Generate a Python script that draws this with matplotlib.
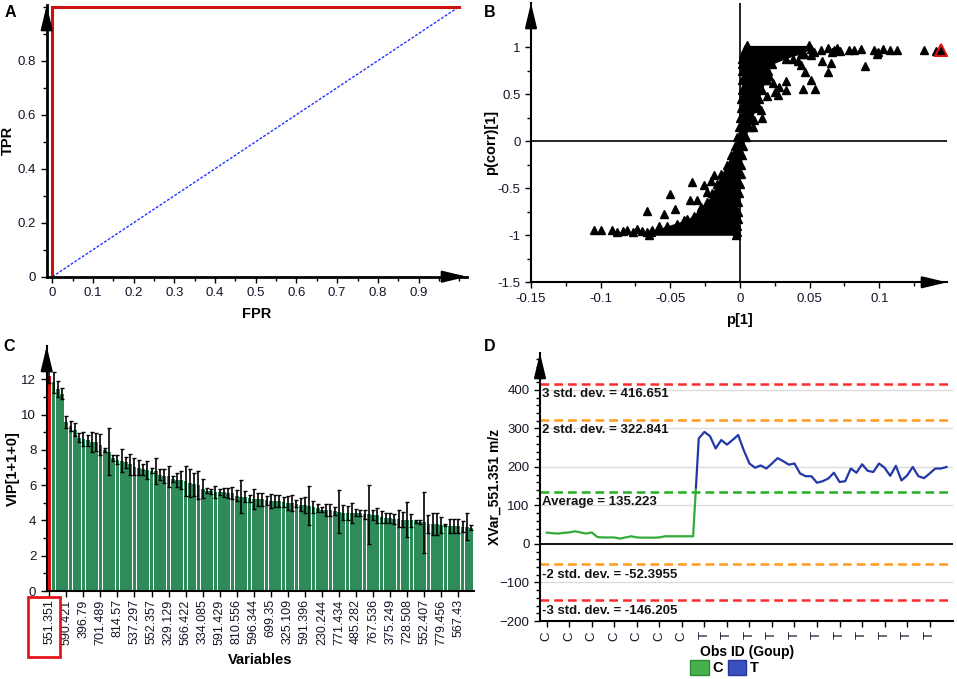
import matplotlib
matplotlib.use("Agg")
import matplotlib.pyplot as plt
from matplotlib.patches import Rectangle, Patch
from matplotlib.ticker import MultipleLocator

plt.rcParams['font.family'] = ['Liberation Sans', 'DejaVu Sans']

# ---- A: ROC ----
roc_fpr = [0.0, 0.0, 1.0]
roc_tpr = [0.0, 1.0, 1.0]
ref_fpr = [0.0, 1.0]
ref_tpr = [0.0, 1.0]

# ---- B: S-plot ----
# dense core of the point cloud, read row by row: y level, left and right edge
core_y = [1.02, 0.98, 0.93, 0.88, 0.82, 0.75, 0.65, 0.55, 0.45, 0.35, 0.25, 0.15, 0.05,
          -0.05, -0.15, -0.25, -0.35, -0.45, -0.55, -0.65, -0.75, -0.83, -0.90, -0.96, -1.0]
core_xlo = [0.0053, 0.0034, 0.0022, 0.0017, 0.0014, 0.0014, 0.0012, 0.0012, 0.0010, 0.0007,
            0.0002, -0.0007, -0.0019, -0.0038, -0.0067, -0.0096, -0.0134, -0.0168, -0.0199,
            -0.0240, -0.0295, -0.0378, -0.0522, -0.0642, -0.0654]
core_xhi = [0.0496, 0.0508, 0.0436, 0.0328, 0.0232, 0.0201, 0.0184, 0.0160, 0.0136, 0.0113,
            0.0089, 0.0067, 0.0041, 0.0024, 0.0017, 0.0010, 0.0005, -0.0002, -0.0007,
            -0.0012, -0.0014, -0.0017, -0.0019, -0.0024, -0.0031]
out_x = [0.058, 0.063, 0.0675, 0.072, 0.078, 0.082, 0.087, 0.096, 0.099, 0.103, 0.108, 0.113,
         0.132, 0.1405, 0.046, 0.051, 0.053, 0.098, 0.066, 0.070,
         0.0436, 0.047, 0.051, 0.045, 0.054, 0.059, 0.065, 0.063, 0.090, 0.033, 0.033, 0.027,
         0.0196, 0.016, 0.010, 0.009, 0.0196, 0.024, 0.021, 0.015, 0.0125, 0.028, 0.025,
         0.038, 0.042,
         -0.105, -0.100, -0.092, -0.088, -0.084, -0.081, -0.077, -0.074, -0.070, -0.067,
         -0.063, -0.0666, -0.0546, -0.0505, -0.0467, -0.0347, -0.036, -0.0307, -0.0187,
         -0.0235, -0.028, -0.040, -0.033, -0.045, -0.058, -0.026, -0.021]
out_y = [0.97, 0.99, 0.97, 0.96, 0.97, 0.97, 0.98, 0.97, 0.95, 0.98, 0.97, 0.97,
         0.97, 0.96, 0.93, 0.92, 0.95, 0.93, 0.95, 0.99,
         0.81, 0.74, 0.65, 0.56, 0.56, 0.85, 0.83, 0.74, 0.80, 0.64, 0.55, 0.49,
         0.48, 0.245, 0.23, 0.156, 0.65, 0.62, 0.69, 0.33, 0.40, 0.58, 0.52,
         0.88, 0.85,
         -0.945, -0.945, -0.94, -0.96, -0.95, -0.94, -0.96, -0.93, -0.95, -0.96,
         -0.94, -0.74, -0.77, -0.56, -0.72, -0.43, -0.62, -0.62, -0.36,
         -0.54, -0.70, -0.84, -0.80, -0.88, -0.90, -0.47, -0.42]
sel_x = [0.144]
sel_y = [0.966]

# ---- C: VIP ----
vip = [12.2, 11.85, 11.45, 11.2, 9.6, 9.35, 9.15, 8.7, 8.6, 8.55,
       8.45, 8.45, 8.3, 8.0, 7.9, 7.55, 7.45, 7.4, 7.3, 7.2,
       7.05, 7.0, 6.9, 6.85, 6.82, 6.8, 6.6, 6.55, 6.5, 6.35,
       6.3, 6.3, 6.25, 6.15, 6.05, 6.0, 5.8, 5.7, 5.65, 5.6,
       5.6, 5.6, 5.55, 5.55, 5.4, 5.35, 5.35, 5.25, 5.2, 5.2,
       5.2, 5.15, 5.1, 5.1, 5.1, 5.05, 5.0, 5.0, 4.95, 4.9,
       4.88, 4.85, 4.75, 4.7, 4.6, 4.6, 4.6, 4.55, 4.5, 4.45,
       4.45, 4.45, 4.45, 4.4, 4.35, 4.35, 4.3, 4.3, 4.2, 4.15,
       4.15, 4.1, 4.1, 4.05, 4.05, 4.0, 3.95, 3.9, 3.9, 3.8,
       3.8, 3.8, 3.75, 3.75, 3.7, 3.7, 3.7, 3.65, 3.65, 3.6]
vip_err = [0.4, 0.6, 0.45, 0.3, 0.35, 0.27, 0.36, 0.24, 0.4, 0.3,
           0.57, 0.5, 0.6, 0.1, 1.33, 0.17, 0.24, 0.64, 0.3, 0.6,
           0.48, 0.43, 0.3, 0.5, 0.15, 0.72, 0.3, 0.4, 0.6, 0.15,
           0.42, 0.52, 0.85, 0.8, 0.65, 0.8, 0.55, 0.14, 0.15, 0.35,
           0.17, 0.26, 0.28, 0.33, 0.32, 0.93, 0.31, 0.19, 0.57, 0.38,
           0.38, 0.26, 0.38, 0.36, 0.34, 0.28, 0.38, 0.44, 0.19, 0.36,
           0.47, 1.09, 0.35, 0.22, 0.14, 0.32, 0.35, 0.24, 1.23, 0.43,
           0.4, 0.57, 0.2, 0.17, 0.24, 1.66, 0.27, 0.43, 0.33, 0.27,
           0.27, 0.28, 0.49, 0.41, 1.01, 0.36, 0.08, 0.11, 1.72, 0.51,
           0.65, 0.65, 0.47, 0.04, 0.41, 0.41, 0.41, 0.33, 0.76, 0.12]
var_labels = ['551.351', '590.421', '396.79', '701.489', '814.57', '537.297', '552.357',
              '329.129', '566.422', '334.085', '591.429', '810.556', '596.344', '699.35',
              '325.109', '591.396', '230.244', '771.434', '485.282', '767.536', '375.249',
              '728.508', '552.407', '779.456', '567.43']

# ---- D: control chart ----
obs_c = [29.6, 28, 27, 29, 30, 33, 30, 27, 30, 18, 17, 17, 17, 14, 17, 20, 17, 16.5,
         16.5, 16.5, 17, 20, 20, 20, 20, 20, 20]
obs_t = [274, 291, 280, 248, 270, 258, 270, 283, 243, 209, 198, 204, 196, 209, 223,
         215, 206, 209, 183, 176, 176, 159, 163, 170, 185, 161, 163, 196, 185, 207,
         190, 187, 209, 198, 177, 203, 165, 178, 200, 176, 171, 183, 196, 196, 200]
limit_vals = [416.651, 322.841, 135.223, -52.3955, -146.205]
limit_text = ['3 std. dev. = 416.651', '2 std. dev. = 322.841', 'Average = 135.223',
              '-2 std. dev. = -52.3955', '-3 std. dev. = -146.205']
limit_colors = ['#ff2a2a', '#ff9a1a', '#22b022', '#ff9a1a', '#ff2a2a']

W, H = 957, 679
fig = plt.figure(figsize=(W / 100, H / 100), dpi=100)


def px_axes(left, top, right, bottom):
    return fig.add_axes([left / W, 1 - bottom / H, (right - left) / W, (bottom - top) / H])


def style(ax, lw=1.5):
    ax.spines['top'].set_visible(False)
    ax.spines['right'].set_visible(False)
    ax.spines['left'].set_linewidth(lw)
    ax.spines['bottom'].set_linewidth(lw)
    ax.tick_params(which='both', direction='out', labelsize=9.5, labelcolor='#141428', width=1)
    ax.tick_params(which='major', length=4)
    ax.tick_params(which='minor', length=3)


def arrow(ax, xy, xytext):
    ax.annotate('', xy=xy, xytext=xytext, xycoords='axes fraction',
                arrowprops=dict(arrowstyle='-|>,head_length=0.75,head_width=0.18',
                                color='black', lw=1.5, shrinkA=0, shrinkB=0,
                                mutation_scale=20), annotation_clip=False)


# ---------------- A ----------------
axA = px_axes(46.7, 5, 467, 276.7)
axA.plot(ref_fpr, ref_tpr, color='#2233ff', lw=1, ls=(0, (2, 1.2)))
axA.plot(roc_fpr, roc_tpr, color='#cc1010', lw=2.2, solid_joinstyle='miter')
axA.set_xlim(-0.0138, 1.019)
axA.set_ylim(0, 1.006)
style(axA, 2)
axA.set_xticks([0, 0.1, 0.2, 0.3, 0.4, 0.5, 0.6, 0.7, 0.8, 0.9])
axA.set_xticklabels(['0', '0.1', '0.2', '0.3', '0.4', '0.5', '0.6', '0.7', '0.8', '0.9'])
axA.xaxis.set_minor_locator(MultipleLocator(0.05))
axA.set_yticks([0, 0.2, 0.4, 0.6, 0.8])
axA.set_yticklabels(['0', '0.2', '0.4', '0.6', '0.8'])
axA.yaxis.set_minor_locator(MultipleLocator(0.1))
axA.set_xlabel('FPR', fontsize=10.5, fontweight='bold', labelpad=6)
axA.set_ylabel('TPR', fontsize=10.5, fontweight='bold')
axA.yaxis.set_label_coords(-0.075, 0.5)
arrow(axA, (1.0, 0), (0.94, 0))
arrow(axA, (0, 1.0), (0, 0.92))

# ---------------- B ----------------
axB = px_axes(531, 3, 947, 282.3)
axB.axvline(0, color='black', lw=1.2, zorder=1)
axB.axhline(0, color='black', lw=1.2, zorder=1)
axB.fill_betweenx(core_y, core_xlo, core_xhi, color='black', lw=0, zorder=2)
axB.plot(core_xlo + core_xhi, core_y + core_y, '^', color='black', ms=5.5, ls='none', zorder=3)
axB.plot(out_x, out_y, '^', color='black', ms=5.5, ls='none', zorder=3)
axB.plot(sel_x, sel_y, '^', color='black', ms=5.5, ls='none', zorder=4)
axB.plot(sel_x, sel_y, '^', mfc='none', mec='#e01010', mew=1.4, ms=9, ls='none', zorder=5)
axB.set_xlim(-0.15, 0.1486)
axB.set_ylim(-1.5, 1.471)
style(axB, 1.5)
axB.set_xticks([-0.15, -0.1, -0.05, 0, 0.05, 0.1])
axB.set_xticklabels(['-0.15', '-0.1', '-0.05', '0', '0.05', '0.1'])
axB.xaxis.set_minor_locator(MultipleLocator(0.025))
axB.set_yticks([-1.5, -1, -0.5, 0, 0.5, 1])
axB.set_yticklabels(['-1.5', '-1', '-0.5', '0', '0.5', '1'])
axB.yaxis.set_minor_locator(MultipleLocator(0.25))
axB.set_xlabel('p[1]', fontsize=10.5, fontweight='bold', labelpad=6)
axB.set_ylabel('p(corr)[1]', fontsize=10.5, fontweight='bold')
axB.yaxis.set_label_coords(-0.079, 0.5)
arrow(axB, (1.0, 0), (0.94, 0))
arrow(axB, (0, 1.0), (0, 0.92))

# ---------------- C ----------------
axC = px_axes(46.7, 346, 473.6, 591)
xs = list(range(len(vip)))
colors = ['#e01010'] + ['#2e8b5a'] * (len(vip) - 1)
axC.bar(xs, vip, width=0.88, color=colors, lw=0, zorder=2)
axC.errorbar(xs, vip, yerr=vip_err, fmt='none', ecolor='black', elinewidth=1.2,
             capsize=1.6, capthick=1, zorder=3)
axC.set_xlim(-0.61, 99.6)
axC.set_ylim(0, 13.9)
style(axC, 1.5)
axC.set_xticks(xs[::4])
axC.set_xticklabels(var_labels, rotation=90)
axC.tick_params(axis='x', labelsize=9, pad=2)
axC.set_yticks([0, 2, 4, 6, 8, 10, 12])
axC.yaxis.set_minor_locator(MultipleLocator(1))
axC.set_xlabel('Variables', fontsize=10.5, fontweight='bold')
axC.xaxis.set_label_coords(0.5, -0.255)
axC.set_ylabel('VIP[1+1+0]', fontsize=10.5, fontweight='bold')
axC.yaxis.set_label_coords(-0.063, 0.5)
arrow(axC, (0, 1.0), (0, 0.9))
fig.add_artist(Rectangle((28 / W, 1 - 657 / H), 32 / W, 60 / H, transform=fig.transFigure,
                         fill=False, ec='#e8141c', lw=2))

# ---------------- D ----------------
axD = px_axes(540, 353, 953.3, 621)
for g in [-100, 100, 200, 300, 400]:
    axD.axhline(g, color='#dcdcdc', lw=1, zorder=0)
axD.axhline(0, color='black', lw=1.3, zorder=1)
for v, t, c in zip(limit_vals, limit_text, limit_colors):
    axD.axhline(v, color=c, lw=1.8, ls=(0, (3.5, 2)), zorder=2)
    axD.text(-0.9, v - 27, t, fontsize=9.5, fontweight='bold', color='#141414',
             va='center', ha='left', zorder=4)
n_c = len(obs_c)
xc = list(range(n_c))
xt = list(range(n_c, n_c + len(obs_t)))
mid_x = (xc[-1] + xt[0]) / 2
mid_y = (obs_c[-1] + obs_t[0]) / 2
axD.plot(xc + [mid_x], obs_c + [mid_y], color='#33aa3a', lw=1.6, zorder=3)
axD.plot([mid_x] + xt, [mid_y] + obs_t, color='#2237a8', lw=1.6, zorder=3)
axD.set_xlim(-1.19, 72.2)
axD.set_ylim(-200, 496)
style(axD, 1.5)
tick_pos = list(range(0, 72, 4))
axD.set_xticks(tick_pos)
axD.set_xticklabels(['C' if p < n_c else 'T' for p in tick_pos], rotation=90)
axD.set_yticks([-200, -100, 0, 100, 200, 300, 400])
axD.yaxis.set_minor_locator(MultipleLocator(20))
axD.set_xlabel('Obs ID (Goup)', fontsize=10, fontweight='bold', labelpad=3)
axD.set_ylabel('XVar_551.351 m/z', fontsize=10, fontweight='bold')
axD.yaxis.set_label_coords(-0.092, 0.5)
arrow(axD, (0, 1.0), (0, 0.9))
fig.legend(handles=[Patch(fc='#45b04c', ec='#2f8a36', label='C'),
                    Patch(fc='#3a4fc0', ec='#24359a', label='T')],
           loc='center', bbox_to_anchor=(0.757, 0.017), ncol=2, frameon=False,
           handlelength=1.3, handleheight=1.3, handletextpad=0.25, columnspacing=0.3,
           prop={'size': 10.5, 'weight': 'bold'})

# panel letters
for lab, x, y in [('A', 5, 5), ('B', 484, 5), ('C', 3, 339), ('D', 484, 339)]:
    fig.text(x / W, 1 - y / H, lab, fontsize=11.5, fontweight='bold', va='top', ha='left')

fig.savefig('out.png', dpi=100)
